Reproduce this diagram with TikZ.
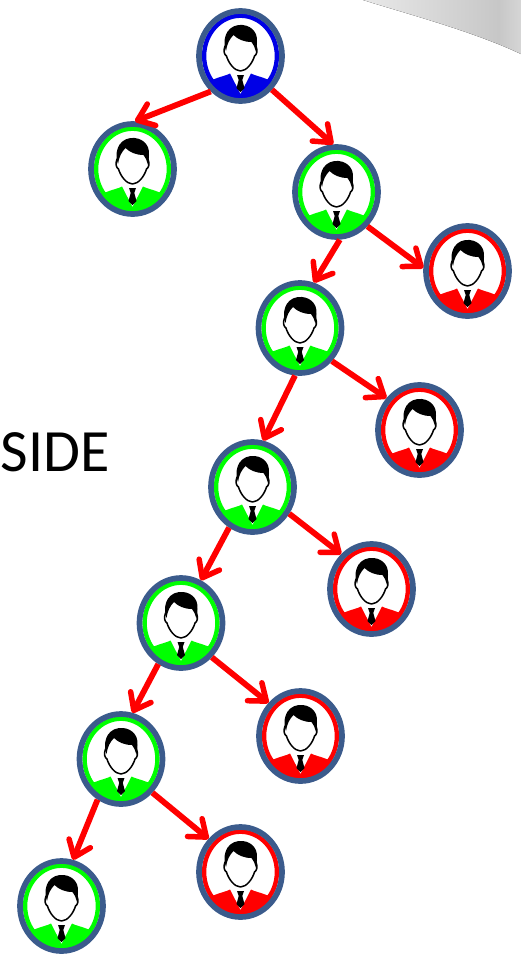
\documentclass[tikz,border=0pt]{standalone}
\usepackage{fontspec}
\setmainfont{Carlito}
\usetikzlibrary{arrows.meta,shapes.geometric}
\definecolor{edgeblue}{RGB}{59,91,140}
\definecolor{arrowred}{RGB}{255,0,0}
\definecolor{pblue}{RGB}{0,0,230}
\definecolor{pgreen}{RGB}{0,255,0}
\definecolor{pred}{RGB}{255,0,0}
\pgfdeclarehorizontalshading{swoosh}{100bp}{
  color(0bp)=(white);
  color(30bp)=(black!10);
  color(68bp)=(black!22);
  color(80bp)=(black!12);
  color(100bp)=(black!6)}
\tikzset{
  x=1pt,y=-1pt,
  person/.style={ellipse,minimum width=83pt,minimum height=90pt,inner sep=0pt,
    draw=edgeblue,line width=5.7pt,fill=white,
    path picture={
      \begin{scope}[shift={(path picture bounding box.center)},line cap=round,line join=round]
        % shoulders with white collar
        \fill[#1] (-44,28) -- (-26,23) .. controls (-20,20.5) and (-14,19.5) .. (-10.5,17.5) -- (0,38) -- (10.5,17.5)
          .. controls (14,19.5) and (20,20.5) .. (26,23) -- (44,28) -- (44,60) -- (-44,60) -- cycle;
        % ring
        \draw[#1,line width=4.4pt] (0,0) ellipse [x radius=36.4pt,y radius=40.3pt];
        % head outline
        \draw[black,line width=1.5pt] (-15.5,-10) .. controls (-17.5,-5) and (-16,-1) .. (-14,0)
          .. controls (-12,7) and (-6,15) .. (0,15) .. controls (6,15) and (12,7) .. (14,0)
          .. controls (16,-1) and (17.5,-5) .. (15.5,-10);
        % hair
        \fill[black] (-14.5,-5) .. controls (-18,-14) and (-16,-29) .. (-2,-31)
          .. controls (9,-32) and (17.5,-25) .. (16.5,-14) .. controls (16.5,-11) and (16,-8) .. (15.5,-4)
          .. controls (14,-9) and (13,-12) .. (11,-14) .. controls (3,-14) and (-3,-17) .. (-7,-21)
          .. controls (-11,-17) and (-13.5,-12) .. (-14.5,-5) -- cycle;
        % tie
        \fill[black] (-3.5,19) -- (3.5,19) -- (1.8,24) -- (4,32) -- (0,36) -- (-4,32) -- (-1.8,24) -- cycle;
      \end{scope}
    }},
  link/.style={draw=arrowred,line width=5.8pt,-{Straight Barb[length=15pt,width=23pt,line width=5.5pt,round]}},
}
\begin{document}
\begin{tikzpicture}
\useasboundingbox (0,0) rectangle (520,959);
\fill[shading=swoosh,shading angle=0] (360,-1) .. controls (400,12) and (470,30) .. (521,54) -- (521,-1) -- cycle;
\node[anchor=east,inner sep=0pt,font=\fontsize{60}{60}\selectfont] (label) at (110,452) {SIDE};
\node[person=pblue]  (n1)  at (240.5,56) {};
\node[person=pgreen] (n2)  at (132.5,169) {};
\node[person=pgreen] (n3)  at (336.5,192) {};
\node[person=pred]   (n4)  at (467.5,271) {};
\node[person=pgreen] (n5)  at (300,328) {};
\node[person=pred]   (n6)  at (419.5,430) {};
\node[person=pgreen] (n7)  at (252.5,487) {};
\node[person=pred]   (n8)  at (371.5,589) {};
\node[person=pgreen] (n9)  at (181,623) {};
\node[person=pred]   (n10) at (300.5,736) {};
\node[person=pgreen] (n11) at (121,759) {};
\node[person=pred]   (n12) at (240.5,872) {};
\node[person=pgreen] (n13) at (61.5,906) {};
\draw[link] (n1.230) -- (n2.87);
\draw[link] (n1.-47) -- (n3.94);
\draw[link] (n3.-48) -- (n4.176);
\draw[link] (n3.-86) -- (n5.73);
\draw[link] (n5.-46) -- (n6.136);
\draw[link] (n5.-96) -- (n7.77);
\draw[link] (n7.-36) -- (n8.131);
\draw[link] (n7.-120) -- (n9.65);
\draw[link] (n9.-48) -- (n10.134);
\draw[link] (n9.-119) -- (n11.76);
\draw[link] (n11.-47) -- (n12.134);
\draw[link] (n11.-120) -- (n13.76);
\end{tikzpicture}
\end{document}
